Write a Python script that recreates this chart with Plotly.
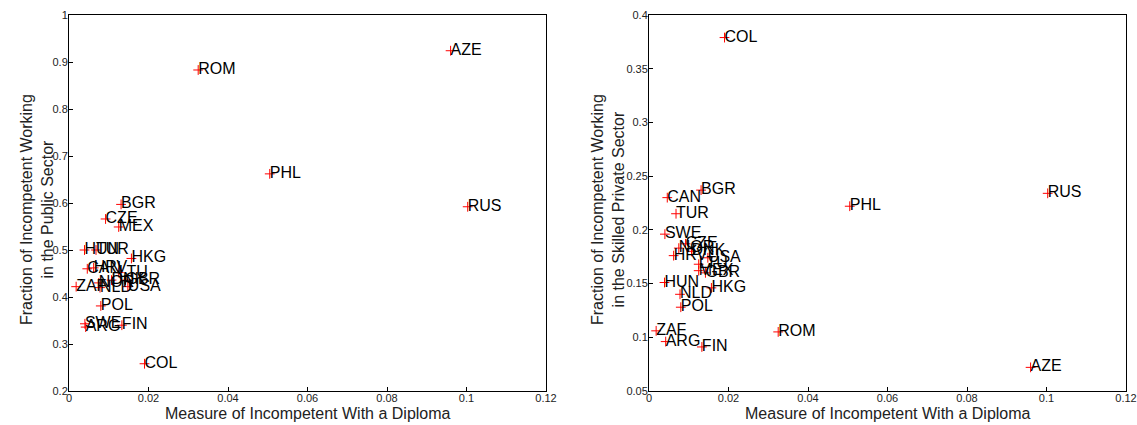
import plotly.graph_objects as go

countries = ["COL", "BGR", "CAN", "TUR", "SWE", "CZE", "MEX", "HUN", "HKG", "HRV",
             "ZAF", "NLD", "POL", "ARG", "FIN", "NOR", "DNK", "USA", "GBR", "LTU",
             "ROM", "PHL", "RUS", "AZE"]
diploma = [0.0190, 0.0131, 0.0046, 0.0068, 0.0040, 0.0092, 0.0125, 0.0039, 0.0157, 0.0062,
           0.0018, 0.0078, 0.0080, 0.0042, 0.0133, 0.0075, 0.0107, 0.0148, 0.0142, 0.0125,
           0.0325, 0.0505, 0.1003, 0.0960]
public = [0.258, 0.597, 0.460, 0.500, 0.343, 0.566, 0.549, 0.500, 0.482, 0.462,
          0.422, 0.420, 0.381, 0.336, 0.340, 0.430, 0.436, 0.422, 0.436, 0.452,
          0.883, 0.662, 0.592, 0.924]
private = [0.379, 0.237, 0.230, 0.215, 0.196, 0.187, 0.162, 0.151, 0.146, 0.176,
           0.106, 0.140, 0.128, 0.096, 0.091, 0.183, 0.180, 0.174, 0.160, 0.168,
           0.105, 0.222, 0.234, 0.072]

xticks = [0, 0.02, 0.04, 0.06, 0.08, 0.1, 0.12]
xlabels = ["0", "0.02", "0.04", "0.06", "0.08", "0.1", "0.12"]
y1ticks = [0.2, 0.3, 0.4, 0.5, 0.6, 0.7, 0.8, 0.9, 1.0]
y1labels = ["0.2", "0.3", "0.4", "0.5", "0.6", "0.7", "0.8", "0.9", "1"]
y2ticks = [0.05, 0.1, 0.15, 0.2, 0.25, 0.3, 0.35, 0.4]
y2labels = ["0.05", "0.1", "0.15", "0.2", "0.25", "0.3", "0.35", "0.4"]

x_title = "Measure of Incompetent With a Diploma"
y1_title = "Fraction of Incompetent Working<br>in the Public Sector"
y2_title = "Fraction of Incompetent Working<br>in the Skilled Private Sector"

W, H = 1137, 425
FF = "Liberation Sans, Arial, Helvetica, sans-serif"

fig = go.Figure()
for ys, xa, ya in [(public, "x", "y"), (private, "x2", "y2")]:
    fig.add_trace(go.Scatter(
        x=diploma, y=ys, mode="markers", xaxis=xa, yaxis=ya,
        marker=dict(symbol="cross-thin", size=7, line=dict(color="red", width=1)),
        cliponaxis=False, showlegend=False, hoverinfo="skip"))
    fig.add_trace(go.Scatter(
        x=diploma, y=ys, text=countries, mode="text", xaxis=xa, yaxis=ya,
        textposition="middle right",
        textfont=dict(family=FF, size=16, color="black"),
        marker=dict(size=1),
        cliponaxis=False, showlegend=False, hoverinfo="skip"))

axis_common = dict(showline=True, linecolor="black", linewidth=1, mirror=True,
                   ticks="inside", ticklen=4, tickcolor="black", showgrid=False,
                   zeroline=False, automargin=False,
                   tickfont=dict(family=FF, size=11, color="#222"))

L1, R1, L2, R2 = 69, 546, 649, 1126
T, B = 15, 391

fig.update_layout(
    width=W, height=H, paper_bgcolor="white", plot_bgcolor="white",
    margin=dict(l=0, r=0, t=T, b=H - B),
    xaxis=dict(domain=[L1 / W, R1 / W], range=[0, 0.12], tickvals=xticks, ticktext=xlabels,
               anchor="y", ticklabelstandoff=-3, **axis_common),
    yaxis=dict(domain=[0, 1], range=[0.2, 1.0], tickvals=y1ticks, ticktext=y1labels,
               anchor="x", ticklabelstandoff=-2, **axis_common),
    xaxis2=dict(domain=[L2 / W, R2 / W], range=[0, 0.12], tickvals=xticks, ticktext=xlabels,
                anchor="y2", ticklabelstandoff=-3, **axis_common),
    yaxis2=dict(domain=[0, 1], range=[0.05, 0.4], tickvals=y2ticks, ticktext=y2labels,
                anchor="x2", ticklabelstandoff=-2, **axis_common),
)


def py(pix):
    return (B - pix) / (B - T)


title_font = dict(family=FF, size=16, color="#222")
ann = []
for cx in [(L1 + R1) / 2, (L2 + R2) / 2]:
    ann.append(dict(text=x_title, xref="paper", yref="paper", x=cx / W, y=py(413),
                    xanchor="center", yanchor="middle", showarrow=False, font=title_font))
for cx, txt in [(37, y1_title), (608, y2_title)]:
    ann.append(dict(text=txt, xref="paper", yref="paper", x=cx / W, y=py(210),
                    xanchor="center", yanchor="middle", showarrow=False, textangle=-90,
                    font=title_font))
fig.update_layout(annotations=ann)

fig.write_html("out.html", config={"displayModeBar": False},
               post_script="document.body.style.margin='0';")
